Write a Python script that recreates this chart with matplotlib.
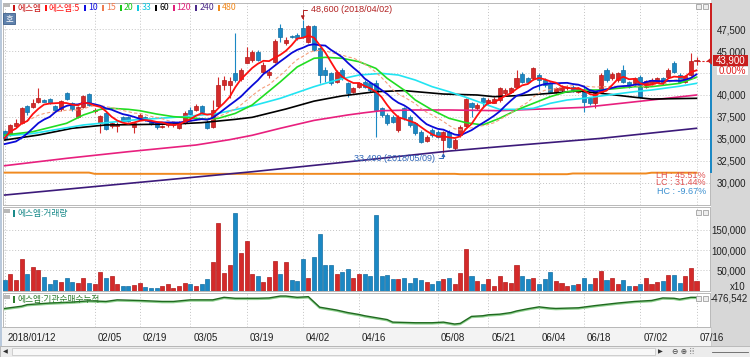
import numpy as np
import pandas as pd
import matplotlib
matplotlib.use("Agg")
import matplotlib.pyplot as plt
from matplotlib.patches import Rectangle, Polygon
import matplotlib.transforms as mtransforms
import logging
logging.getLogger('matplotlib.font_manager').setLevel(logging.ERROR)

# ---------------- data ----------------
holidays = ['2018-02-15', '2018-02-16', '2018-03-01', '2018-05-01', '2018-05-07',
            '2018-05-22', '2018-06-06', '2018-06-13']
dates = pd.bdate_range('2018-01-12', '2018-07-16', freq='C', holidays=holidays)

tick_dates = ['2018-01-12', '2018-02-05', '2018-02-19', '2018-03-05', '2018-03-19', '2018-04-02',
              '2018-04-16', '2018-05-08', '2018-05-21', '2018-06-04', '2018-06-18', '2018-07-02',
              '2018-07-16']
tick_labels = ['2018/01/12', '02/05', '02/19', '03/05', '03/19', '04/02', '04/16', '05/08',
               '05/21', '06/04', '06/18', '07/02', '07/16']

opens = [35900, 35430, 36460, 36770, 38750, 38590, 39240, 39430, 39540, 38780,
         38360, 40270, 39050, 37530, 38670, 40110, 38140, 36770, 37980, 36460,
         36460, 37530, 37530, 36390, 37220, 37530, 36960, 36770, 36310, 36540,
         36540, 36200, 36770, 38290, 38290, 38750, 36960, 36310, 38750, 41140,
         41140, 42470, 41790, 43690, 44000, 44950, 42660, 42280, 43800, 47610,
         45900, 46740, 46850, 47610, 46050, 47880, 45330, 42850, 42470, 41520,
         42850, 41330, 40380, 40950, 41520, 41330, 41330, 38480, 37720, 37530,
         36010, 38480, 37530, 36770, 35810, 34790, 36010, 35810, 34860, 35810,
         33910, 35430, 36460, 39050, 38480, 39620, 39050, 39120, 39430, 40190,
         40380, 40950, 42400, 41900, 41900, 42280, 41710, 41330, 40380, 40570,
         40760, 40950, 40380, 40380, 39620, 39050, 40380, 42850, 41940, 41710,
         42850, 41480, 41370, 42050, 40910, 41370, 41480, 41940, 42050, 43650,
         42280, 41480, 42280, 43900]
closes = [35100, 36580, 36840, 38480, 38100, 39120, 39620, 39240, 39050, 38290,
          39320, 39500, 38360, 38590, 39890, 38860, 38290, 37600, 36080, 36770,
          36690, 37030, 37030, 36770, 37720, 37150, 36690, 36310, 36460, 36770,
          36690, 36960, 37910, 37830, 38750, 38100, 36200, 38290, 41140, 41710,
          41600, 41710, 42850, 44300, 44950, 44000, 43420, 42660, 46200, 46660,
          46280, 46580, 46470, 46660, 47880, 45140, 42280, 42280, 41330, 42660,
          41900, 40190, 40760, 41330, 40950, 40570, 38290, 37720, 36770, 36960,
          37530, 37340, 36580, 35620, 34670, 35240, 35430, 35240, 35810, 34100,
          34860, 36390, 39500, 38590, 38860, 39240, 39430, 39500, 40760, 40570,
          40760, 41900, 41520, 41520, 43040, 41710, 41140, 40380, 40760, 40950,
          40950, 40570, 40760, 39240, 39050, 40190, 42280, 41710, 42400, 42510,
          41480, 40910, 41940, 39770, 41600, 41710, 41940, 41370, 42850, 42620,
          41480, 42170, 43900, 43900]
highs = [36000, 36700, 37220, 38600, 38850, 39600, 40760, 39500, 39620, 38900,
         39430, 40380, 39240, 38750, 40000, 40200, 38500, 37720, 38100, 36960,
         36960, 37600, 37600, 36960, 37900, 37600, 37030, 36960, 36580, 36900,
         36800, 37030, 38200, 38590, 38980, 38860, 37150, 39430, 42090, 42170,
         42090, 47040, 43040, 45520, 45140, 45100, 43800, 42850, 46350, 48100,
         46580, 46850, 47040, 48600, 48000, 48000, 45520, 43230, 42660, 42850,
         43040, 41520, 40950, 41520, 41710, 41520, 41710, 38670, 37910, 37720,
         37720, 38670, 37720, 36960, 36010, 35430, 36200, 36010, 35900, 36010,
         35050, 36580, 39620, 39240, 39050, 39810, 39620, 39810, 40950, 40760,
         40950, 42850, 42660, 42090, 43230, 42470, 41900, 41520, 40950, 41140,
         41140, 41140, 40950, 41100, 39810, 40380, 42470, 43040, 42660, 42660,
         43420, 41600, 42090, 42280, 41710, 41900, 42090, 42090, 43040, 43900,
         42470, 42280, 44800, 44300]
lows = [34900, 35300, 36300, 36700, 37700, 38480, 39120, 39150, 38950, 38200,
        38200, 39400, 38200, 37340, 38550, 38700, 38000, 35620, 36000, 36200,
        35800, 36960, 36900, 35700, 37100, 37000, 36580, 36100, 36200, 36400,
        36400, 36100, 36700, 37720, 38200, 38000, 36080, 36200, 38600, 40570,
        39620, 41520, 41600, 43610, 43800, 43900, 42470, 41900, 43620, 46090,
        45710, 46470, 46280, 46470, 45900, 45000, 41330, 41520, 41140, 41330,
        41710, 39810, 40190, 40760, 40760, 40380, 35240, 37530, 36580, 36770,
        35810, 37150, 36390, 35430, 34480, 34600, 35240, 35050, 33400, 33910,
        33720, 35240, 36390, 37530, 38290, 38480, 38860, 39050, 39240, 40000,
        40190, 40760, 41330, 41330, 41710, 40570, 40950, 40190, 40190, 40380,
        40570, 40380, 40190, 38100, 38860, 38480, 40190, 41520, 41710, 41520,
        41330, 40760, 41140, 39620, 40760, 41140, 41330, 41140, 41900, 42470,
        41330, 41330, 42170, 43400]
volume = [25000, 42000, 25000, 77000, 40000, 57000, 51000, 34000, 17000, 25000,
          20000, 32000, 20000, 18000, 31000, 19000, 17000, 47000, 30000, 37000,
          15000, 12000, 12000, 14000, 19000, 9000, 7000, 7000, 11000, 15000,
          6000, 12000, 18000, 17000, 11000, 17000, 28000, 71000, 168000, 44000,
          62000, 191000, 92000, 122000, 40000, 37000, 20000, 34000, 72000, 42000,
          71000, 27000, 23000, 77000, 31000, 83000, 139000, 64000, 64000, 42000,
          46000, 54000, 32000, 40000, 42000, 35000, 186000, 35000, 39000, 28000,
          28000, 32000, 18000, 32000, 25000, 20000, 17000, 24000, 28000, 31000,
          17000, 44000, 102000, 37000, 23000, 16000, 28000, 11000, 37000, 20000,
          18000, 64000, 35000, 29000, 32000, 16000, 28000, 45000, 24000, 18000,
          10000, 14000, 15000, 31000, 16000, 32000, 49000, 26000, 31000, 17000,
          27000, 12000, 11000, 15000, 31000, 16000, 20000, 24000, 39000, 39000,
          19000, 37000, 55000, 24000]

# moving-average 10 values read for the first days (window not yet full)
ma10_head = [34400, 34550, 34700, 35100, 35600, 36200, 36800, 37200, 37500]

# longer moving averages (index, value)
ma20_idx = [0, 5, 11, 14, 17, 19, 22, 24, 27, 30, 34, 36, 38, 41, 44, 49, 52, 55, 57, 60, 63, 66,
            68, 71, 73, 76, 79, 82, 85, 88, 91, 94, 97, 100, 103, 106, 109, 112, 115, 120, 123]
ma20_val = [35430, 35810, 36770, 37720, 38360, 38480, 38360, 38210, 37830, 37530, 37340, 37220,
            37340, 37900, 38860, 41500, 43200, 44190, 44300, 44190, 43800, 43040, 41900, 40570,
            39430, 38290, 37340, 36840, 36580, 37340, 38290, 39050, 39810, 40380, 40570, 40570,
            40760, 40950, 40950, 41330, 42020]
ma33_idx = [0, 5, 14, 23, 32, 38, 44, 49, 55, 59, 63, 67, 70, 73, 76, 79, 82, 85, 88, 91, 94, 97,
            100, 103, 106, 112, 115, 120, 123]
ma33_val = [35320, 35600, 36580, 37150, 37530, 37910, 38750, 39620, 40950, 41710, 42280, 42470,
            42280, 41710, 40950, 40380, 39740, 39050, 38360, 38360, 38480, 39050, 39430, 39620,
            39890, 40380, 40570, 41000, 41330]
ma60_idx = [0, 6, 12, 18, 24, 30, 35, 41, 44, 50, 55, 60, 66, 71, 78, 84, 87, 92, 97, 102, 106,
            112, 115, 123]
ma60_val = [34860, 35430, 36200, 36580, 36630, 36690, 36840, 37220, 37450, 38400, 39300, 39900,
            40380, 40500, 40110, 40000, 39810, 39950, 40190, 40460, 40190, 39740, 39540, 39620]
ma120_idx = [0, 11, 22, 34, 40, 44, 49, 55, 61, 64, 67, 73, 79, 88, 91, 103, 115, 123]
ma120_val = [31930, 32770, 33530, 34290, 34900, 35400, 36200, 37100, 37720, 37980, 38210, 38290,
             38290, 38210, 38290, 38590, 39430, 40000]
ma240_idx = [0, 44, 60, 79, 88, 106, 123]
ma240_val = [28580, 31240, 32300, 33600, 34100, 35050, 36200]
ma480_idx = [0, 15, 16, 80, 81, 100, 101, 114, 115, 123]
ma480_val = [31140, 31140, 31000, 31000, 30960, 30960, 31040, 31040, 31130, 31130]

# institutional net-buying cumulative (index, value)
inst_idx = [0, 3, 4, 8, 12, 15, 18, 20, 24, 28, 30, 33, 37, 39, 41, 45, 47, 49, 50, 52, 54, 56,
            59, 61, 63, 64, 68, 69, 73, 76, 78, 80, 81, 83, 85, 86, 88, 90, 91, 93, 95, 97, 98,
            102, 105, 109, 112, 115, 117, 119, 120, 122, 123]
inst_val = [-754800, -699100, -659400, -619600, -595800, -564000, -579900, -540100, -556000,
            -579900, -579900, -540100, -540100, -476500, -500400, -500400, -492400, -444700,
            -444700, -476500, -460600, -723000, -794500, -858100, -905800, -937600, -1033000,
            -1096600, -1112500, -1112500, -1096600, -1144300, -1128400, -953500, -937600,
            -913800, -897900, -858100, -818400, -762700, -715000, -746800, -754800, -738900,
            -683200, -619600, -579900, -556000, -492400, -500400, -524200, -476542, -476542]

legend_items = ['에스엠', '에스엠:5', '10', '15', '20', '33', '60', '120', '240', '480']
legend_colors = ['#c81414', '#ff1010', '#1010e0', '#f07c50', '#18c818', '#10c8e0', '#000000',
                 '#e0207a', '#4b2a8a', '#f08a20']

# ---------------- derived ----------------
O = np.array(opens, float); C = np.array(closes, float)
Hh = np.array(highs, float); L = np.array(lows, float)
V = np.array(volume, float)
n = len(C)
x = np.arange(n)
cs = pd.Series(C)
ma5 = cs.rolling(5, min_periods=1).mean().values
ma10 = cs.rolling(10).mean().values
ma10[:len(ma10_head)] = ma10_head
ma15 = cs.rolling(15, min_periods=1).mean().values
tick_pos = [dates.get_loc(pd.Timestamp(d)) for d in tick_dates]

RED, RED_E = '#d42a2a', '#b31a1a'
BLUE, BLUE_E = '#1b88c4', '#156fa2'
up = C >= O
fill = np.where(up, RED, BLUE)
edge = np.where(up, RED_E, BLUE_E)

# ---------------- figure ----------------
W, Hpx = 750, 357
fig = plt.figure(figsize=(W / 100, Hpx / 100), dpi=100)
fig.patch.set_facecolor('white')
NUM = ['Liberation Sans Narrow', 'Liberation Sans', 'DejaVu Sans']
KR = ['Noto Sans CJK KR', 'DejaVu Sans']


def rect(x0, y0, x1, y1):
    return [x0 / W, 1 - y1 / Hpx, (x1 - x0) / W, (y1 - y0) / Hpx]


def fpatch(x0, y0, x1, y1, **kw):
    r = Rectangle((x0 / W, 1 - y1 / Hpx), (x1 - x0) / W, (y1 - y0) / Hpx,
                  transform=fig.transFigure, **kw)
    fig.patches.append(r)
    return r


# background pieces
fpatch(711, 0, 750, 346, facecolor='#d7d7d7', edgecolor='none', zorder=-5)
fpatch(0, 327, 711, 346, facecolor='#f3f3f3', edgecolor='#c8c8c8', lw=0.6, zorder=-5)
fpatch(0, 346, 750, 357, facecolor='#ececec', edgecolor='#b0b0b0', lw=0.6, zorder=-5)
fpatch(12, 348, 655, 355, facecolor='#f8f8f8', edgecolor='#c0c0c0', lw=0.5, zorder=-4)
fpatch(0, 0, 2, 346, facecolor='#b9c9dc', edgecolor='none', zorder=-4)

ax = fig.add_axes(rect(3, 3, 710, 205))
axv = fig.add_axes(rect(3, 207, 710, 291))
axi = fig.add_axes(rect(3, 293, 710, 327))

XL = (-0.3, 125.4)
for a in (ax, axv, axi):
    a.set_xlim(*XL)
    a.set_xticks(tick_pos)
    a.tick_params(axis='x', length=0, labelbottom=False)
    a.grid(axis='x', color='#c4c4c4', lw=0.7, linestyle=(0, (1, 2)))
    for s in a.spines.values():
        s.set_color('#b8b8b8'); s.set_linewidth(0.7)
    a.yaxis.tick_right()
    a.tick_params(axis='y', length=0, pad=26, labelsize=7, labelcolor='#202020')
    a.set_axisbelow(True)

# ---- price panel ----
ax.set_ylim(27443, 50502)
yt = np.arange(30000, 47501, 2500)
ax.set_yticks(yt)
# the 42,500 label sits under the current-price box in the reference
ax.set_yticklabels(['' if v == 42500 else f'{v:,}' for v in yt], family=NUM, ha='right')
ax.grid(axis='y', color='#c4c4c4', lw=0.7, linestyle=(0, (1, 2)))

ax.vlines(x, L, Hh, colors=fill, lw=0.8, zorder=3)
bh = np.maximum(np.abs(C - O), 40)
ax.bar(x, bh, bottom=np.minimum(O, C), width=0.72, color=fill, edgecolor=edge, lw=0.5, zorder=3)

ax.plot(ma480_idx, ma480_val, color='#f08a20', lw=1.4, zorder=4)
ax.plot(ma240_idx, ma240_val, color='#3c1a7a', lw=1.2, zorder=4)
ax.plot(ma120_idx, ma120_val, color='#e8207e', lw=1.2, zorder=4)
ax.plot(ma60_idx, ma60_val, color='#000000', lw=1.2, zorder=4)
ax.plot(ma33_idx, ma33_val, color='#22e4f2', lw=1.2, zorder=4)
ax.plot(ma20_idx, ma20_val, color='#22dd22', lw=1.2, zorder=4)
ax.plot(x, ma15, color='#f4a07c', lw=0.8, ls=(0, (3, 2)), zorder=4)
ax.plot(x, ma10, color='#0a0ad8', lw=1.3, zorder=5)
ax.plot(x, ma5, color='#ff1010', lw=1.3, zorder=5)

# last price dashed
ax.hlines(C[-1], n - 0.7, XL[1], colors='#e02020', lw=0.8, linestyles=(0, (2, 1.5)), zorder=5)

# high / low annotations
hi = int(np.argmax(Hh)); lo = int(np.argmin(L))
ax.annotate(f'{int(Hh[hi]):,} ({dates[hi]:%Y/%m/%d})', xy=(hi, Hh[hi]), xytext=(6, 7),
            textcoords='offset points', ha='left', va='center', fontsize=6.5, family=NUM,
            color='#b22222', zorder=6,
            arrowprops=dict(arrowstyle='-|>', color='#b22222', lw=0.7, mutation_scale=5,
                            shrinkA=1, shrinkB=0, relpos=(0, 0.5),
                            connectionstyle='angle,angleA=0,angleB=90,rad=0'))
ax.annotate(f'{int(L[lo]):,} ({dates[lo]:%Y/%m/%d})', xy=(lo, L[lo]), xytext=(-6, -4),
            textcoords='offset points', ha='right', va='center', fontsize=6.5, family=NUM,
            color='#2f66b8', zorder=6,
            arrowprops=dict(arrowstyle='-|>', color='#2f66b8', lw=0.7, mutation_scale=5,
                            shrinkA=1, shrinkB=0, relpos=(1, 0.5),
                            connectionstyle='angle,angleA=0,angleB=90,rad=0'))

lh = (Hh[hi] - L[lo]) / L[lo] * 100
lc = (C[-1] - L[lo]) / L[lo] * 100
hc = (C[-1] - Hh[hi]) / Hh[hi] * 100
for i, (t, col) in enumerate([(f'LH : {lh:.2f}%', '#e05252'), (f'LC : {lc:.2f}%', '#e05252'),
                              (f'HC : {hc:.2f}%', '#3a8fd0')]):
    fig.text(706 / W, 1 - (175 + 8 * i) / Hpx, t, ha='right', va='center', fontsize=6.5,
             family=NUM, color=col)

# ---- volume panel ----
axv.set_ylim(-1200, 206700)
vt = [50000, 100000, 150000]
axv.set_yticks(vt)
axv.set_yticklabels([f'{v:,}' for v in vt], family=NUM, ha='right')
axv.grid(axis='y', color='#c4c4c4', lw=0.7, linestyle=(0, (1, 2)))
axv.bar(x, V, width=0.72, color=fill, edgecolor=edge, lw=0.5, zorder=3)
fig.text(746 / W, 1 - 287 / Hpx, 'x10', ha='right', va='center', fontsize=7, family=NUM,
         color='#202020')

# ---- institutional panel ----
axi.set_ylim(-1219000, -369000)
axi.set_yticks([inst_val[-1]])
axi.set_yticklabels([f'{inst_val[-1]:,}'], family=NUM, ha='right')
axi.tick_params(axis='y', pad=27)
shadow = mtransforms.offset_copy(axi.transData, fig=fig, x=0, y=-1, units='dots')
axi.plot(inst_idx, inst_val, color='#8fd08f', lw=1.2, transform=shadow, zorder=3)
axi.plot(inst_idx, inst_val, color='#1f6a1f', lw=1.0, zorder=4)

# ---- date labels ----
dtrans = mtransforms.offset_copy(
    mtransforms.blended_transform_factory(axi.transData, fig.transFigure),
    fig=fig, x=3, y=0, units='dots')
for p, lab in zip(tick_pos, tick_labels):
    fig.text(p, 1 - 338 / Hpx, lab, transform=dtrans, ha='left', va='center', fontsize=7,
             family=NUM, color='#202020')

# ---- legend / panel titles ----
r = fig.canvas.get_renderer()
xp = 13
for lab, col in zip(legend_items, legend_colors):
    fpatch(xp, 5, xp + 2, 11, facecolor=col, edgecolor='none', zorder=6)
    t = fig.text((xp + 4) / W, 1 - 8 / Hpx, lab, ha='left', va='center', fontsize=6.3,
                 family=KR, color=col, zorder=6)
    bb = t.get_window_extent(renderer=r)
    xp = bb.x1 + 4

fpatch(3, 3, 10, 7, facecolor='#b8b8b8', edgecolor='none', zorder=6)
fpatch(3, 13, 15, 24, facecolor='#5f82ad', edgecolor='#3d5f8a', lw=0.6, zorder=6)
fig.text(9 / W, 1 - 18.5 / Hpx, '호', ha='center', va='center', fontsize=6, family=KR,
         color='white', zorder=7)

fpatch(3, 209, 10, 213, facecolor='#b8b8b8', edgecolor='none', zorder=6)
fpatch(13, 210, 15, 217, facecolor='#1a8a8a', edgecolor='none', zorder=6)
fig.text(17 / W, 1 - 213.5 / Hpx, '에스엠:거래량', ha='left', va='center', fontsize=6.3,
         family=KR, color='#1a8a8a', zorder=6)
fpatch(3, 295, 10, 299, facecolor='#b8b8b8', edgecolor='none', zorder=6)
fpatch(13, 296, 15, 303, facecolor='#2d7d2d', edgecolor='none', zorder=6)
fig.text(17 / W, 1 - 299.5 / Hpx, '에스엠:기관순매수누적', ha='left', va='center', fontsize=6.3,
         family=KR, color='#2d7d2d', zorder=6)

# small window buttons at panel top-right
for yy in (4, 210, 296):
    for xx in (696, 703):
        fpatch(xx, yy, xx + 5, yy + 5, facecolor='#eeeeee', edgecolor='#909090', lw=0.5, zorder=6)

# ---- current price marker ----
py = ax.transData.transform((0, C[-1]))[1]
py_px = Hpx - py
top_px = 3
fpatch(709.5, top_px, 712, py_px, facecolor='#cc2020', edgecolor='none', zorder=6)
low_px = Hpx - ax.transData.transform((0, ma480_val[-1]))[1]
fpatch(709.5, py_px, 712, low_px, facecolor='#1b88c4', edgecolor='none', zorder=6)
fpatch(713, py_px - 5.5, 748, py_px + 5.5, facecolor='#c81e1e', edgecolor='none', zorder=7)
fig.text(730.5 / W, 1 - py_px / Hpx, f'{int(C[-1]):,}', ha='center', va='center', fontsize=7,
         family=NUM, color='white', zorder=8)
tri = Polygon([(707 / W, 1 - py_px / Hpx), (712 / W, 1 - (py_px - 4) / Hpx),
               (712 / W, 1 - (py_px + 4) / Hpx)], closed=True, transform=fig.transFigure,
              facecolor='#cc2020', edgecolor='none', zorder=8)
fig.patches.append(tri)
chg = (C[-1] - C[-2]) / C[-2] * 100
fpatch(717, py_px + 6, 748, py_px + 14, facecolor='white', edgecolor='none', zorder=7)
fig.text(746 / W, 1 - (py_px + 10) / Hpx, f'{chg:.2f}%', ha='right', va='center', fontsize=7,
         family=NUM, color='#e02020', zorder=8)

# ---- scrollbar glyphs ----
fig.text(5 / W, 1 - 351.5 / Hpx, '◀', ha='center', va='center', fontsize=4.5, color='#303030')
fig.text(660 / W, 1 - 351.5 / Hpx, '▶', ha='center', va='center', fontsize=4.5, color='#303030')
fig.text(683 / W, 1 - 351.5 / Hpx, '⊖ ⊕ ⁞⁞', ha='center', va='center', fontsize=5.5,
         color='#404040')
fig.lines.append(plt.Line2D([712 / W, 748 / W], [1 - 351.5 / Hpx, 1 - 351.5 / Hpx],
                            transform=fig.transFigure, color='#606060', lw=0.6))

fig.savefig('out.png', dpi=100)
